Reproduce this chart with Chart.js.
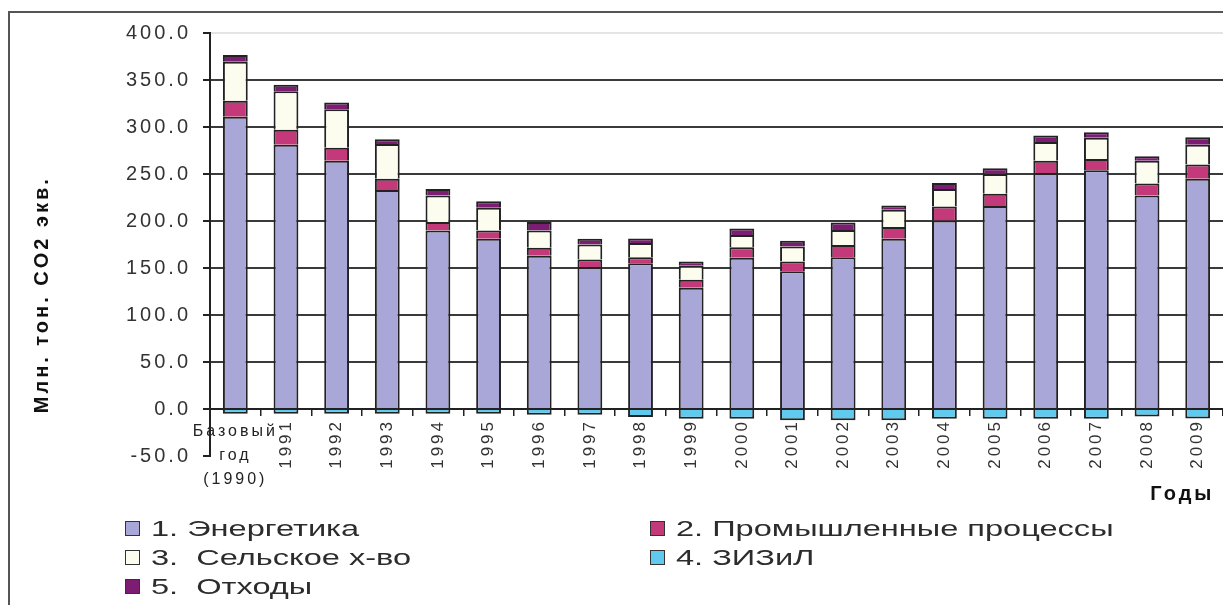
<!DOCTYPE html>
<html>
<head>
<meta charset="utf-8">
<script src="https://cdn.jsdelivr.net/npm/chart.js@4.4.1/dist/chart.umd.min.js"></script>
<style>
  body { margin: 0; background: #fff; }
  #wrap { position: relative; width: 1223px; height: 605px; overflow: hidden; background: #fff; }
  #frame { position: absolute; left: 8px; top: 11px; width: 1300px; height: 700px;
           border-left: 2px solid #555; border-top: 2px solid #555; pointer-events: none; }
  #legend { position: absolute; left: 125px; top: 514px; display: grid;
            grid-template-columns: 525px auto; font: 22px "Liberation Sans", Arial, sans-serif; color: #2c2c2c; }
  .item { display: flex; align-items: center; height: 29px; white-space: pre; }
  .box { width: 13px; height: 13px; border: 1.5px solid #333; margin-right: 11px; flex: none; }
  .txt { display: inline-block; transform: scaleX(1.48); transform-origin: left center; }
</style>
</head>
<body>
<div id="wrap">
  <canvas id="chart" width="1223" height="605"></canvas>
  <div id="frame"></div>
  <div id="legend"></div>
</div>
<script>
// категории (первая - базовый год)
const years = ['Базовый год (1990)', '1991', '1992', '1993', '1994', '1995', '1996', '1997', '1998', '1999',
               '2000', '2001', '2002', '2003', '2004', '2005', '2006', '2007', '2008', '2009'];
const baseLabel = ['Базовый', 'год', '(1990)'];

// значения, млн. тонн CO2 экв.
const energy = [311, 281, 264, 233, 190, 181, 163, 151, 155, 129, 161, 146.5, 161.5, 181, 200.5, 216, 251, 254, 227, 245];
const industry = [17, 16, 14, 12, 9, 9, 8.5, 8, 6.5, 8.5, 11, 10.5, 13, 12.5, 15, 13, 13, 12, 13, 15];
const agriculture = [41.5, 41, 41, 37, 28, 24, 18.5, 16, 15, 15, 13, 16, 16, 18.5, 18.5, 21, 20, 22.5, 24, 21];
const lulucf = [-5, -5, -5, -5, -5, -5, -6, -6, -8.5, -10.5, -10.5, -12, -12, -12, -10.5, -10.5, -10.5, -10.5, -8, -10];
const waste = [7, 7, 7, 5, 7, 7, 9, 6, 5, 4.5, 7, 6, 8, 4.5, 6.5, 6, 7, 6, 5, 8];

const seriesNames = ['1. Энергетика', '2. Промышленные процессы', '3.  Сельское х-во', '4. ЗИЗиЛ', '5.  Отходы'];
const seriesColors = ['#a9a6d8', '#c4397a', '#fdfdef', '#5fc9ee', '#7c1c72'];
const seriesData = [energy, industry, agriculture, lulucf, waste];

const yMin = -50;
const yMax = 400;
const yStep = 50;

Chart.defaults.font.family = '"Liberation Sans", Arial, sans-serif';
Chart.defaults.color = '#333';

// растянутый текст как на оригинале
const textSpacing = {
    id: 'textSpacing',
    beforeDraw(chart) { chart.ctx.letterSpacing = '3px'; },
    afterDraw(chart) { chart.ctx.letterSpacing = '0px'; }
};

const datasets = seriesData.map((values, i) => ({
    label: seriesNames[i],
    data: values,
    backgroundColor: seriesColors[i],
    borderColor: '#222',
    borderWidth: 2,
    barPercentage: 0.49,
    categoryPercentage: 1
}));

new Chart(document.getElementById('chart'), {
    type: 'bar',
    data: { labels: years, datasets: datasets },
    plugins: [textSpacing],
    options: {
        responsive: false,
        devicePixelRatio: 1,
        animation: false,
        layout: { padding: { left: 0, right: 0, top: 33, bottom: 149 } },
        plugins: { legend: { display: false }, tooltip: { enabled: false } },
        scales: {
            x: {
                stacked: true,
                position: { y: 0 },
                border: { color: '#222', width: 2 },
                grid: { drawOnChartArea: false, tickLength: 6, tickColor: '#222', lineWidth: 1.5 },
                ticks: {
                    autoSkip: false, minRotation: 90, maxRotation: 90, padding: 4,
                    font: { size: 17 }, color: '#333',
                    callback: (v, i) => i === 0 ? '' : years[i]
                },
                title: {
                    display: true, text: 'Годы ', align: 'end', color: '#111',
                    font: { size: 20, weight: 'bold' }, padding: { top: 22, bottom: 0 }
                }
            },
            xBase: {
                position: { y: 0 },
                grid: { display: false },
                border: { display: false },
                ticks: {
                    autoSkip: false, minRotation: 0, maxRotation: 0, padding: 3,
                    font: { size: 16, lineHeight: 1.5 }, color: '#222',
                    callback: (v, i) => i === 0 ? baseLabel : ''
                }
            },
            y: {
                stacked: true,
                min: yMin,
                max: yMax,
                afterFit: (scale) => { scale.width = 210; },
                border: { color: '#222', width: 2 },
                grid: {
                    lineWidth: 2,
                    tickLength: 7,
                    tickColor: '#222',
                    color: (c) => c.tick.value === yMax ? '#e4e4e4' : (c.tick.value === yMin ? 'rgba(0,0,0,0)' : '#3a3a3a')
                },
                ticks: {
                    stepSize: yStep, padding: 12, font: { size: 20 }, color: '#333',
                    callback: (v) => Number(v).toFixed(1)
                },
                title: {
                    display: true,
                    // ведущие пробелы сдвигают подпись вниз, как на оригинале
                    text: '     Млн. тон. CO2 экв.',
                    align: 'start', color: '#111',
                    font: { size: 20, weight: 'bold' }, padding: { top: 30, bottom: 0 }
                }
            }
        }
    }
});

// легенда в две колонки: 1 2 / 3 4 / 5
const legendDiv = document.getElementById('legend');
seriesNames.forEach((name, i) => {
    const item = document.createElement('div');
    item.className = 'item';
    const box = document.createElement('span');
    box.className = 'box';
    box.style.background = seriesColors[i];
    const txt = document.createElement('span');
    txt.className = 'txt';
    txt.textContent = name;
    item.appendChild(box);
    item.appendChild(txt);
    legendDiv.appendChild(item);
});
</script>
</body>
</html>
